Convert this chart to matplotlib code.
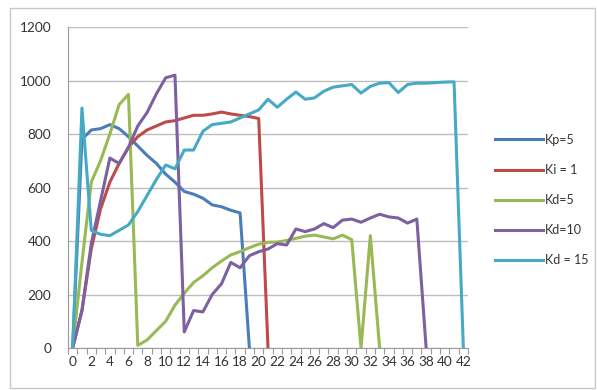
import matplotlib
matplotlib.use('Agg')
import matplotlib.pyplot as plt
from matplotlib.patches import Rectangle
import numpy as np

nan = np.nan

# data (step index 0..42)
steps = list(range(43))
kp5 = [0, 780, 815, 820, 835, 820, 790, 755, 720, 690, 650, 620, 585, 575, 560, 535, 528, 515, 505, 0]
ki1 = [0, 140, 370, 520, 620, 690, 750, 790, 815, 830, 845, 850, 860, 870, 870, 875, 882, 875, 870, 865, 858, 0]
kd5 = [0, 320, 620, 700, 800, 910, 948, 10, 30, 65, 100, 160, 205, 245, 270, 300, 325, 348, 360, 375,
       388, 395, 396, 402, 410, 418, 422, 415, 408, 422, 405, 0, 420, 0]
kd10 = [0, 140, 390, 550, 710, 690, 750, 830, 880, 950, 1010, 1020, 60, 140, 135, 200, 240, 320, 300, 345,
        360, 370, 390, 385, 445, 435, 445, 465, 450, 478, 482, 470, 486, 500, 490, 486, 467, 482, 0]
kd15 = [0, 897, 440, 425, 420, 440, 460, 510, 570, 630, 684, 670, 740, 740, 810, 835, 840, 845, 860, 875,
        890, 930, 900, 930, 957, 930, 935, 960, 975, 980, 985, 953, 978, 990, 992, 955, 985, 990, 990, 992,
        994, 995, 0]

series = [
    ('Kp=5', kp5, '#4A7EBB'),
    ('Ki = 1', ki1, '#BE4B48'),
    ('Kd=5', kd5, '#98B954'),
    ('Kd=10', kd10, '#7D60A0'),
    ('Kd = 15', kd15, '#46AAC5'),
]

plt.rcParams['font.family'] = ['Lato', 'DejaVu Sans']

fig = plt.figure(figsize=(5.97, 3.90), dpi=100)
ax = fig.add_axes([68 / 597, 1 - 348 / 390, 400 / 597, 321 / 390])

for name, vals, col in series:
    y = np.array(vals + [nan] * (43 - len(vals)), dtype=float)
    ax.plot(steps, y, color=col, lw=2.2, label=name, solid_joinstyle='round')

ax.set_xlim(-0.5, 42.5)
ax.set_ylim(0, 1200)
ax.set_yticks(range(0, 1201, 200))
ax.set_xticks(range(0, 43, 2))
ax.set_xticks(np.arange(-0.5, 43, 1), minor=True)
ax.tick_params(axis='x', which='major', length=0, labelsize=9.8, colors='#333333', pad=6)
ax.tick_params(axis='x', which='minor', length=4, color='#9a9a9a', width=0.8)
ax.tick_params(axis='y', length=0, labelsize=9.8, colors='#333333', pad=12)
ax.grid(axis='y', color='#bdbdbd', lw=1)
ax.set_axisbelow(True)
for s in ['top', 'right']:
    ax.spines[s].set_visible(False)
for s in ['left', 'bottom']:
    ax.spines[s].set_color('#9a9a9a')

fig.legend(loc='center left', bbox_to_anchor=(484 / 597, 1 - 200 / 390), frameon=False,
           fontsize=9, handlelength=3.8, handletextpad=0.2, labelspacing=1.45, labelcolor='#333333')

fig.patches.append(Rectangle((10 / 597, 2 / 390), 585 / 597, 380 / 390, transform=fig.transFigure,
                             fill=False, edgecolor='#c8c8c8', lw=1))

fig.savefig('out.png', dpi=100)
